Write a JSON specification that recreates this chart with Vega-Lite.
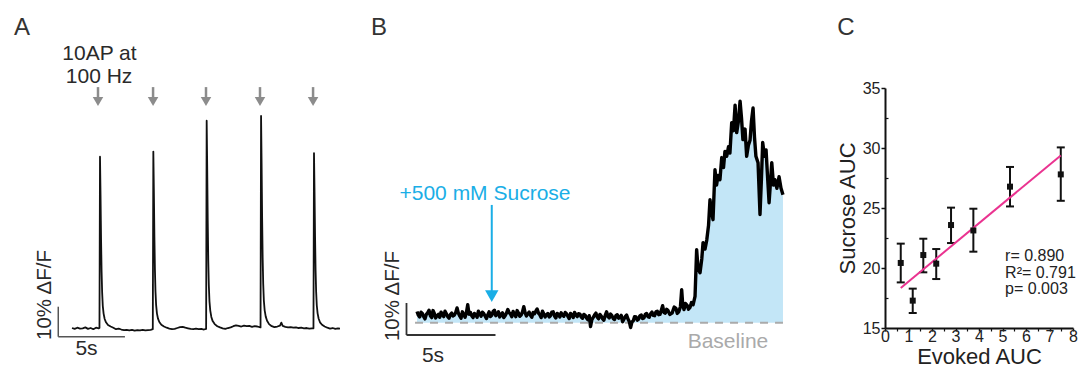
{
  "$schema": "https://vega.github.io/schema/vega-lite/v6.json",
  "padding": 0,
  "background": "white",
  "bounds": "flush",
  "spacing": 0,
  "config": {"view": {"stroke": null}, "font": "Liberation Sans"},
  "datasets": {
    "traceA": [
      {"t":0,"v":0.1},{"t":0.2,"v":-0.2},{"t":0.4,"v":0.2},{"t":0.6,"v":-0.1},{"t":0.8,"v":0.0},{"t":1.0,"v":0.3},{"t":1.2,"v":-0.2},{"t":1.4,"v":0.1},{"t":1.6,"v":-0.3},{"t":1.8,"v":0.2},{"t":2.0,"v":0.0},{"t":2.06,"v":0.1},
      {"t":2.10,"v":57.2},{"t":2.14,"v":44.6},{"t":2.18,"v":29.7},{"t":2.22,"v":18.9},{"t":2.26,"v":12.0},{"t":2.31,"v":7.4},{"t":2.37,"v":4.9},{"t":2.45,"v":3.1},{"t":2.55,"v":2.0},{"t":2.70,"v":1.1},{"t":2.90,"v":0.6},{"t":3.10,"v":0.2},
      {"t":3.3,"v":-0.3},{"t":3.5,"v":-0.1},{"t":3.7,"v":-0.4},{"t":3.9,"v":-0.6},{"t":4.1,"v":-0.5},{"t":4.3,"v":-0.7},{"t":4.5,"v":-0.5},{"t":4.7,"v":-0.8},{"t":4.9,"v":-0.6},{"t":5.1,"v":-0.7},{"t":5.3,"v":-0.5},{"t":5.5,"v":-0.7},{"t":5.7,"v":-0.6},{"t":5.9,"v":-0.5},{"t":6.06,"v":-0.3},
      {"t":6.10,"v":58.9},{"t":6.14,"v":45.9},{"t":6.18,"v":30.6},{"t":6.22,"v":19.4},{"t":6.26,"v":12.4},{"t":6.31,"v":7.7},{"t":6.37,"v":5.0},{"t":6.45,"v":3.2},{"t":6.55,"v":2.1},{"t":6.70,"v":1.2},{"t":6.90,"v":0.6},{"t":7.10,"v":0.2},
      {"t":7.3,"v":-0.1},{"t":7.5,"v":-0.3},{"t":7.7,"v":-0.2},{"t":7.9,"v":0.1},{"t":8.1,"v":0.4},{"t":8.3,"v":0.5},{"t":8.5,"v":0.2},{"t":8.7,"v":0.0},{"t":8.9,"v":-0.2},{"t":9.1,"v":-0.3},{"t":9.3,"v":-0.1},{"t":9.5,"v":-0.3},{"t":9.7,"v":-0.2},{"t":9.9,"v":-0.4},{"t":10.06,"v":-0.2},
      {"t":10.10,"v":69.2},{"t":10.14,"v":54.0},{"t":10.18,"v":36.0},{"t":10.22,"v":22.8},{"t":10.26,"v":14.5},{"t":10.31,"v":9.0},{"t":10.37,"v":5.9},{"t":10.45,"v":3.8},{"t":10.55,"v":2.4},{"t":10.70,"v":1.4},{"t":10.90,"v":0.7},{"t":11.10,"v":0.3},
      {"t":11.3,"v":0.0},{"t":11.5,"v":-0.2},{"t":11.7,"v":0.1},{"t":11.9,"v":0.3},{"t":12.1,"v":0.7},{"t":12.3,"v":1.0},{"t":12.5,"v":0.8},{"t":12.7,"v":0.6},{"t":12.9,"v":0.9},{"t":13.1,"v":0.7},{"t":13.3,"v":0.8},{"t":13.5,"v":0.5},{"t":13.7,"v":0.7},{"t":13.9,"v":0.6},{"t":14.14,"v":0.3},
      {"t":14.18,"v":70.8},{"t":14.22,"v":55.2},{"t":14.26,"v":36.8},{"t":14.30,"v":23.4},{"t":14.34,"v":14.9},{"t":14.39,"v":9.2},{"t":14.45,"v":6.0},{"t":14.53,"v":3.9},{"t":14.63,"v":2.5},{"t":14.78,"v":1.4},{"t":14.98,"v":0.7},{"t":15.18,"v":0.4},
      {"t":15.4,"v":0.6},{"t":15.6,"v":0.9},{"t":15.7,"v":1.9},{"t":15.8,"v":0.8},{"t":16.0,"v":0.5},{"t":16.2,"v":0.3},{"t":16.4,"v":0.4},{"t":16.6,"v":0.2},{"t":16.8,"v":0.3},{"t":17.0,"v":0.1},{"t":17.2,"v":0.2},{"t":17.4,"v":0.0},{"t":17.6,"v":0.1},{"t":17.8,"v":-0.1},{"t":18.0,"v":0.0},{"t":18.11,"v":0.0},
      {"t":18.15,"v":58.4},{"t":18.19,"v":45.6},{"t":18.23,"v":30.4},{"t":18.27,"v":19.3},{"t":18.31,"v":12.3},{"t":18.36,"v":7.6},{"t":18.42,"v":5.0},{"t":18.50,"v":3.2},{"t":18.60,"v":2.0},{"t":18.75,"v":1.2},{"t":18.95,"v":0.6},{"t":19.15,"v":0.2},
      {"t":19.35,"v":-0.1},{"t":19.55,"v":0.1},{"t":19.75,"v":-0.2},{"t":19.95,"v":0.0},{"t":20.1,"v":-0.1}
    ],
    "traceB": [
      {"t":0,"v":3.5},{"t":0.075,"v":2.4},{"t":0.15,"v":1.8},{"t":0.225,"v":3.3},{"t":0.3,"v":2.9},{"t":0.375,"v":1.9},{"t":0.45,"v":1.2},{"t":0.525,"v":2.6},{"t":0.6,"v":3.1},{"t":0.675,"v":3.9},{"t":0.75,"v":2.2},{"t":0.825,"v":1.6},{"t":0.9,"v":3.8},{"t":0.975,"v":2.9},{"t":1.05,"v":1.5},{"t":1.125,"v":2.2},{"t":1.2,"v":2.6},{"t":1.275,"v":1.7},{"t":1.35,"v":3.3},{"t":1.425,"v":2.5},{"t":1.5,"v":1.9},{"t":1.575,"v":3.6},{"t":1.65,"v":2.8},{"t":1.725,"v":1.9},{"t":1.8,"v":1.4},{"t":1.875,"v":2.5},{"t":1.95,"v":3.0},{"t":2.025,"v":2.1},{"t":2.1,"v":2.4},{"t":2.175,"v":3.2},{"t":2.25,"v":4.6},{"t":2.325,"v":3.0},{"t":2.4,"v":2.1},{"t":2.475,"v":1.4},{"t":2.55,"v":3.4},{"t":2.625,"v":2.6},{"t":2.7,"v":1.7},{"t":2.775,"v":3.1},{"t":2.85,"v":5.6},{"t":2.925,"v":2.6},{"t":3.0,"v":3.2},
      {"t":3.075,"v":2.2},{"t":3.15,"v":1.6},{"t":3.225,"v":2.9},{"t":3.3,"v":2.5},{"t":3.375,"v":1.7},{"t":3.45,"v":3.6},{"t":3.525,"v":2.8},{"t":3.6,"v":2.0},{"t":3.675,"v":3.3},{"t":3.75,"v":2.9},{"t":3.825,"v":2.1},{"t":3.9,"v":1.3},{"t":3.975,"v":2.4},{"t":4.05,"v":3.4},{"t":4.125,"v":1.9},{"t":4.2,"v":2.3},{"t":4.275,"v":3.5},{"t":4.35,"v":3.9},{"t":4.425,"v":2.2},{"t":4.5,"v":2.6},{"t":4.575,"v":3.4},{"t":4.65,"v":1.8},{"t":4.725,"v":2.6},{"t":4.8,"v":3.1},{"t":4.875,"v":1.6},{"t":4.95,"v":2.2},{"t":5.025,"v":3.0},{"t":5.1,"v":4.1},{"t":5.175,"v":3.2},{"t":5.25,"v":2.7},{"t":5.325,"v":1.9},{"t":5.4,"v":3.5},{"t":5.475,"v":2.6},{"t":5.55,"v":1.9},{"t":5.625,"v":3.8},{"t":5.7,"v":3.0},{"t":5.775,"v":2.0},{"t":5.85,"v":2.4},{"t":5.925,"v":3.4},{"t":6.0,"v":5.0},
      {"t":6.075,"v":3.1},{"t":6.15,"v":2.1},{"t":6.225,"v":2.8},{"t":6.3,"v":3.3},{"t":6.375,"v":2.3},{"t":6.45,"v":1.7},{"t":6.525,"v":3.2},{"t":6.6,"v":2.8},{"t":6.675,"v":3.6},{"t":6.75,"v":4.3},{"t":6.825,"v":3.0},{"t":6.9,"v":2.5},{"t":6.975,"v":1.6},{"t":7.05,"v":3.6},{"t":7.125,"v":2.7},{"t":7.2,"v":1.8},{"t":7.275,"v":2.5},{"t":7.35,"v":2.9},{"t":7.425,"v":1.8},{"t":7.5,"v":2.2},{"t":7.575,"v":3.3},{"t":7.65,"v":3.4},{"t":7.725,"v":2.1},{"t":7.8,"v":1.5},{"t":7.875,"v":2.9},{"t":7.95,"v":2.6},{"t":8.025,"v":1.8},{"t":8.1,"v":3.1},{"t":8.175,"v":2.4},{"t":8.25,"v":2.0},{"t":8.325,"v":3.2},{"t":8.4,"v":2.8},{"t":8.475,"v":2.0},{"t":8.55,"v":1.3},{"t":8.625,"v":2.9},{"t":8.7,"v":2.4},{"t":8.775,"v":1.6},{"t":8.85,"v":3.2},{"t":8.925,"v":2.5},{"t":9.0,"v":1.9},
      {"t":9.075,"v":2.8},{"t":9.15,"v":2.7},{"t":9.225,"v":1.8},{"t":9.3,"v":1.4},{"t":9.375,"v":2.6},{"t":9.45,"v":2.3},{"t":9.525,"v":1.5},{"t":9.6,"v":0.9},{"t":9.675,"v":2.2},{"t":9.75,"v":-1.2},{"t":9.825,"v":1.0},{"t":9.9,"v":1.7},{"t":9.975,"v":2.4},{"t":10.05,"v":3.0},{"t":10.125,"v":1.8},{"t":10.2,"v":1.2},{"t":10.275,"v":2.6},{"t":10.35,"v":2.1},{"t":10.425,"v":1.2},{"t":10.5,"v":0.8},{"t":10.575,"v":2.3},{"t":10.65,"v":3.4},{"t":10.725,"v":2.0},{"t":10.8,"v":1.5},{"t":10.875,"v":2.7},{"t":10.95,"v":2.2},{"t":11.025,"v":1.3},{"t":11.1,"v":1.0},{"t":11.175,"v":2.2},{"t":11.25,"v":2.5},{"t":11.325,"v":1.4},{"t":11.4,"v":1.6},{"t":11.475,"v":2.3},{"t":11.55,"v":0.3},{"t":11.625,"v":1.1},{"t":11.7,"v":1.9},{"t":11.775,"v":2.4},{"t":11.85,"v":1.2},{"t":11.925,"v":0.4},{"t":12.0,"v":-1.5},
      {"t":12.075,"v":0.2},{"t":12.15,"v":0.6},{"t":12.225,"v":1.9},{"t":12.3,"v":1.8},{"t":12.375,"v":0.8},{"t":12.45,"v":1.1},{"t":12.525,"v":2.2},{"t":12.6,"v":2.4},{"t":12.675,"v":1.3},{"t":12.75,"v":1.5},{"t":12.825,"v":2.6},{"t":12.9,"v":2.9},{"t":12.975,"v":1.9},{"t":13.05,"v":1.7},{"t":13.125,"v":2.8},{"t":13.2,"v":3.3},{"t":13.275,"v":2.3},{"t":13.35,"v":2.2},{"t":13.425,"v":3.4},{"t":13.5,"v":3.6},{"t":13.575,"v":2.5},{"t":13.65,"v":2.6},{"t":13.725,"v":3.9},{"t":13.8,"v":5.3},{"t":13.875,"v":3.2},{"t":13.95,"v":3.0},{"t":14.025,"v":4.2},{"t":14.1,"v":3.8},
      {"t":14.2,"v":2.6},{"t":14.33,"v":3.0},{"t":14.45,"v":4.9},{"t":14.55,"v":4.5},{"t":14.62,"v":2.9},{"t":14.70,"v":3.4},{"t":14.8,"v":5.0},{"t":14.87,"v":10.3},{"t":14.93,"v":5.5},{"t":15.0,"v":4.1},{"t":15.08,"v":6.0},{"t":15.17,"v":5.5},{"t":15.25,"v":4.2},{"t":15.34,"v":4.8},{"t":15.42,"v":6.3},{"t":15.51,"v":5.6},{"t":15.62,"v":8.2},{"t":15.71,"v":22.8},{"t":15.79,"v":17.0},{"t":15.90,"v":15.6},{"t":16.0,"v":20.0},{"t":16.07,"v":25.0},{"t":16.18,"v":23.0},{"t":16.28,"v":25.9},{"t":16.38,"v":30.5},{"t":16.46,"v":38.4},{"t":16.54,"v":35.0},{"t":16.63,"v":32.2},{"t":16.74,"v":47.8},{"t":16.83,"v":43.0},{"t":16.91,"v":46.0},{"t":17.02,"v":44.7},{"t":17.12,"v":51.6},{"t":17.22,"v":48.5},{"t":17.30,"v":53.5},{"t":17.40,"v":52.0},{"t":17.50,"v":55.0},{"t":17.58,"v":53.0},{"t":17.68,"v":62.5},{"t":17.78,"v":60.0},{"t":17.87,"v":68.0},{"t":17.96,"v":59.4},{"t":18.06,"v":63.0},{"t":18.15,"v":69.2},{"t":18.23,"v":64.0},{"t":18.31,"v":57.2},{"t":18.43,"v":60.5},{"t":18.52,"v":52.0},{"t":18.62,"v":55.5},{"t":18.71,"v":57.0},{"t":18.79,"v":63.0},{"t":18.88,"v":67.1},{"t":18.96,"v":58.0},{"t":19.04,"v":52.0},{"t":19.16,"v":50.0},{"t":19.27,"v":33.8},{"t":19.35,"v":45.0},{"t":19.42,"v":56.3},{"t":19.52,"v":52.0},{"t":19.61,"v":54.0},{"t":19.69,"v":46.0},{"t":19.78,"v":37.5},{"t":19.86,"v":44.0},{"t":19.93,"v":50.0},{"t":20.03,"v":43.0},{"t":20.11,"v":44.7},{"t":20.22,"v":42.0},{"t":20.34,"v":45.6},{"t":20.45,"v":42.0},{"t":20.56,"v":40.0}
    ],
    "auc": [
      {"e":0.67,"s":20.42,"lo":18.8,"hi":22.03},
      {"e":1.18,"s":17.28,"lo":16.25,"hi":18.28},
      {"e":1.63,"s":21.08,"lo":19.64,"hi":22.44},
      {"e":2.18,"s":20.36,"lo":19.08,"hi":21.58},
      {"e":2.81,"s":23.58,"lo":22.08,"hi":25.03},
      {"e":3.76,"s":23.13,"lo":21.36,"hi":24.94},
      {"e":5.32,"s":26.78,"lo":25.13,"hi":28.42},
      {"e":7.48,"s":27.8,"lo":25.6,"hi":30.05}
    ]
  },
  "hconcat": [
    {
      "width": 360,
      "height": 371,
      "encoding": {
        "x": {"field": "t", "type": "quantitative", "scale": {"domain": [-5.4, 21.6], "nice": false, "zero": false}, "axis": null},
        "y": {"field": "v", "type": "quantitative", "scale": {"domain": [-14.23, 109.43], "nice": false, "zero": false}, "axis": null}
      },
      "layer": [
        {"data": {"name": "traceA"}, "mark": {"type": "line", "color": "#111111", "strokeWidth": 1.8, "strokeJoin": "round"}},
        {"data": {"values": [{"t": -1.03, "t2": -1.03, "v": -2.8, "v2": 7.2}, {"t": -1.03, "t2": 3.97, "v": -2.8, "v2": -2.8}]},
         "mark": {"type": "rule", "color": "#555555", "strokeWidth": 1.5},
         "encoding": {"x2": {"field": "t2"}, "y2": {"field": "v2"}}},
        {"data": {"values": [{"t": 1.95, "v": 80.4, "v2": 77.0}, {"t": 6.08, "v": 80.4, "v2": 77.0}, {"t": 10.05, "v": 80.4, "v2": 77.0}, {"t": 14.1, "v": 80.4, "v2": 77.0}, {"t": 18.08, "v": 80.4, "v2": 77.0}]},
         "mark": {"type": "rule", "color": "#8c8c8c", "strokeWidth": 2.5},
         "encoding": {"y2": {"field": "v2"}}},
        {"data": {"values": [{"t": 1.95, "v": 75.6}, {"t": 6.08, "v": 75.6}, {"t": 10.05, "v": 75.6}, {"t": 14.1, "v": 75.6}, {"t": 18.08, "v": 75.6}]},
         "mark": {"type": "point", "shape": "triangle-down", "filled": true, "size": 110, "color": "#8c8c8c", "opacity": 1}},
        {"data": {"values": [{"t": -3.75, "v": 97.77, "label": "A"}]},
         "mark": {"type": "text", "fontSize": 24, "color": "#333333", "align": "center", "baseline": "alphabetic"},
         "encoding": {"text": {"field": "label"}}},
        {"data": {"values": [{"t": 2.06, "v": 89.43, "label": "10AP at"}, {"t": 2.03, "v": 81.77, "label": "100 Hz"}, {"t": 1.09, "v": -8.9, "label": "5s"}]},
         "mark": {"type": "text", "fontSize": 21, "color": "#2a2a2a", "align": "center", "baseline": "alphabetic"},
         "encoding": {"text": {"field": "label"}}},
        {"data": {"values": [{"t": -2.03, "v": 11.1, "label": "10% ΔF/F"}]},
         "mark": {"type": "text", "fontSize": 20.5, "color": "#2a2a2a", "align": "center", "baseline": "middle", "angle": 270},
         "encoding": {"text": {"field": "label"}}}
      ]
    },
    {
      "width": 525,
      "height": 371,
      "encoding": {
        "x": {"field": "t", "type": "quantitative", "scale": {"domain": [-3.202, 26.292], "nice": false, "zero": false}, "axis": null},
        "y": {"field": "v", "type": "quantitative", "scale": {"domain": [-15.09, 100.84], "nice": false, "zero": false}, "axis": null}
      },
      "layer": [
        {"data": {"name": "traceB"}, "mark": {"type": "area", "color": "#c3e6f7", "opacity": 1}, "encoding": {"y2": {"datum": 0}}},
        {"data": {"values": [{"t": -0.11, "t2": 20.56, "v": 0}]},
         "mark": {"type": "rule", "color": "#aaaaaa", "strokeWidth": 2, "strokeDash": [8, 7]},
         "encoding": {"x2": {"field": "t2"}}},
        {"data": {"name": "traceB"}, "mark": {"type": "line", "color": "#000000", "strokeWidth": 3.4, "strokeJoin": "round"}},
        {"data": {"values": [{"t": -0.59, "t2": -0.59, "v": -3.84, "v2": 6.16}, {"t": -0.59, "t2": 4.41, "v": -3.84, "v2": -3.84}]},
         "mark": {"type": "rule", "color": "#333333", "strokeWidth": 1.8},
         "encoding": {"x2": {"field": "t2"}, "y2": {"field": "v2"}}},
        {"data": {"values": [{"t": 4.2, "v": 36.8, "v2": 9.6}]},
         "mark": {"type": "rule", "color": "#1aaee6", "strokeWidth": 2},
         "encoding": {"y2": {"field": "v2"}}},
        {"data": {"values": [{"t": 4.2, "v": 8.3}]},
         "mark": {"type": "point", "shape": "triangle-down", "filled": true, "size": 180, "color": "#1aaee6", "opacity": 1}},
        {"data": {"values": [{"t": 3.82, "v": 38.34, "label": "+500 mM Sucrose"}]},
         "mark": {"type": "text", "fontSize": 21, "color": "#1aaee6", "align": "center", "baseline": "alphabetic"},
         "encoding": {"text": {"field": "label"}}},
        {"data": {"values": [{"t": -2.13, "v": 89.9, "label": "B"}]},
         "mark": {"type": "text", "fontSize": 24, "color": "#333333", "align": "center", "baseline": "alphabetic"},
         "encoding": {"text": {"field": "label"}}},
        {"data": {"values": [{"t": 0.9, "v": -12.28, "label": "5s"}]},
         "mark": {"type": "text", "fontSize": 21, "color": "#2a2a2a", "align": "center", "baseline": "alphabetic"},
         "encoding": {"text": {"field": "label"}}},
        {"data": {"values": [{"t": 17.47, "v": -7.9, "label": "Baseline"}]},
         "mark": {"type": "text", "fontSize": 21, "color": "#aaaaaa", "align": "center", "baseline": "alphabetic"},
         "encoding": {"text": {"field": "label"}}},
        {"data": {"values": [{"t": -1.35, "v": 8.34, "label": "10% ΔF/F"}]},
         "mark": {"type": "text", "fontSize": 20.5, "color": "#2a2a2a", "align": "center", "baseline": "middle", "angle": 270},
         "encoding": {"text": {"field": "label"}}}
      ]
    },
    {
      "bounds": "flush",
      "spacing": 0,
      "vconcat": [
        {
          "width": 188,
          "height": 88,
          "data": {"values": [{"e": -1.66, "p": 6.02, "label": "C"}]},
          "mark": {"type": "text", "fontSize": 24, "color": "#333333", "align": "center", "baseline": "alphabetic"},
          "encoding": {
            "x": {"field": "e", "type": "quantitative", "scale": {"domain": [0, 8], "nice": false, "zero": false}, "axis": null},
            "y": {"field": "p", "type": "quantitative", "scale": {"domain": [0, 10], "nice": false, "zero": false}, "axis": null},
            "text": {"field": "label"}
          }
        },
        {
          "width": 188,
          "height": 240,
          "resolve": {"axis": {"x": "independent", "y": "independent"}},
          "layer": [
            {
              "encoding": {
                "x": {"field": "e", "type": "quantitative", "scale": {"domain": [0, 8], "nice": false, "zero": false},
                      "axis": {"title": "Evoked AUC", "orient": "bottom", "values": [0,1,2,3,4,5,6,7,8], "format": "d", "grid": false,
                               "labelFontSize": 16, "labelColor": "#222222", "labelFlush": false, "labelOverlap": false, "labelPadding": -3,
                               "titleFontSize": 22, "titleFontWeight": "normal", "titleColor": "#222222", "titlePadding": 2,
                               "domainColor": "#111111", "domainWidth": 2, "tickColor": "#111111", "tickWidth": 1.5, "tickSize": 3}},
                "y": {"field": "s", "type": "quantitative", "scale": {"domain": [15, 35], "nice": false, "zero": false},
                      "axis": {"title": "Sucrose AUC", "orient": "left", "values": [15,20,25,30,35], "format": "d", "grid": false,
                               "labelFontSize": 16, "labelColor": "#222222", "labelFlush": false, "labelOverlap": false, "labelPadding": 1,
                               "titleFontSize": 22, "titleFontWeight": "normal", "titleColor": "#222222", "titlePadding": 3,
                               "domainColor": "#111111", "domainWidth": 2, "tickColor": "#111111", "tickWidth": 1.5, "tickSize": 4}}
              },
              "layer": [
                {"data": {"name": "auc"}, "mark": {"type": "rule", "color": "#111111", "strokeWidth": 2},
                 "encoding": {"y": {"field": "lo", "type": "quantitative"}, "y2": {"field": "hi"}}},
                {"data": {"name": "auc"}, "mark": {"type": "tick", "orient": "horizontal", "color": "#111111", "size": 8, "thickness": 2, "opacity": 1},
                 "encoding": {"y": {"field": "lo", "type": "quantitative"}}},
                {"data": {"name": "auc"}, "mark": {"type": "tick", "orient": "horizontal", "color": "#111111", "size": 8, "thickness": 2, "opacity": 1},
                 "encoding": {"y": {"field": "hi", "type": "quantitative"}}},
                {"data": {"values": [{"e": 0.67, "s": 18.33}, {"e": 7.48, "s": 29.38}]},
                 "mark": {"type": "line", "color": "#ea3390", "strokeWidth": 2}},
                {"data": {"name": "auc"}, "mark": {"type": "point", "shape": "square", "filled": true, "size": 36, "color": "#111111", "opacity": 1}},
                {"data": {"values": [{"e": 5.11, "s": 20.57, "label": "r= 0.890"}, {"e": 5.11, "s": 19.19, "label": "R²= 0.791"}, {"e": 5.11, "s": 17.81, "label": "p= 0.003"}]},
                 "mark": {"type": "text", "fontSize": 16, "color": "#222222", "align": "left", "baseline": "alphabetic"},
                 "encoding": {"text": {"field": "label"}}}
              ]
            },
            {
              "data": {"name": "auc"},
              "mark": {"type": "point", "opacity": 0},
              "encoding": {
                "x": {"field": "e", "type": "quantitative", "scale": {"domain": [0, 8], "nice": false, "zero": false},
                      "axis": {"title": null, "orient": "bottom", "values": [0.5,1.5,2.5,3.5,4.5,5.5,6.5,7.5], "labels": false, "domain": false, "grid": false,
                               "tickColor": "#111111", "tickWidth": 1.2, "tickSize": 3}},
                "y": {"field": "s", "type": "quantitative", "scale": {"domain": [15, 35], "nice": false, "zero": false},
                      "axis": {"title": null, "orient": "left", "values": [17.5,22.5,27.5,32.5], "labels": false, "domain": false, "grid": false,
                               "tickColor": "#111111", "tickWidth": 1.2, "tickSize": -3}}
              }
            }
          ]
        }
      ]
    }
  ]
}
